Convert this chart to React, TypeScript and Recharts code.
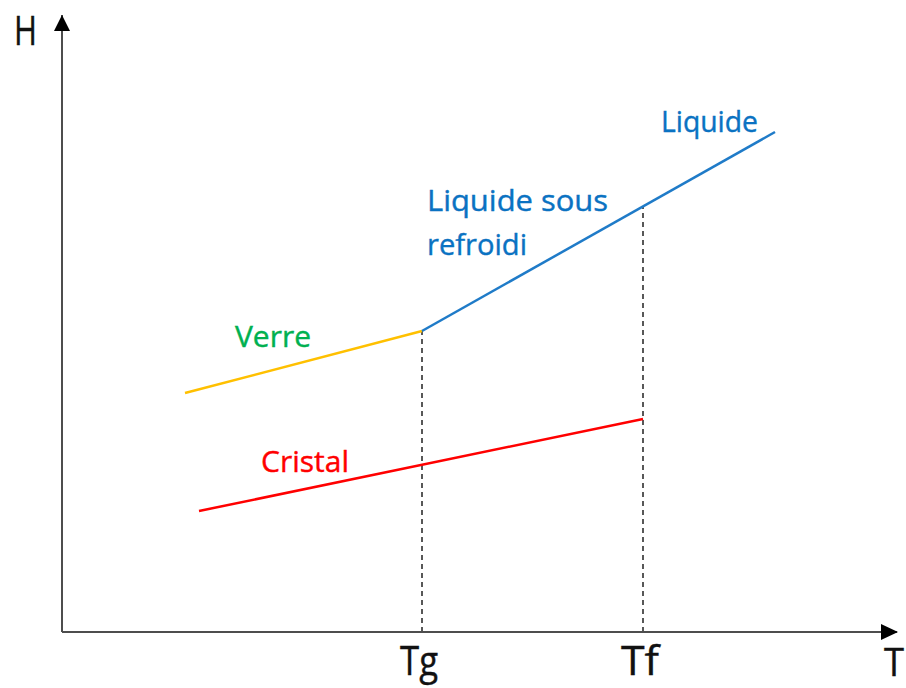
import React from 'react';
import {
  LineChart,
  Line,
  XAxis,
  YAxis,
  ReferenceLine,
  ReferenceDot,
} from 'recharts';

// Temperature (T) and enthalpy (H) in arbitrary units
const verre = [
  { t: 123, h: 239 },
  { t: 360, h: 301 },
];
const liquide = [
  { t: 360, h: 301 },
  { t: 713, h: 500 },
];
const cristal = [
  { t: 137, h: 121 },
  { t: 581, h: 213 },
];
const tempTicks = [360, 581];
const tickLabels = ['Tg', 'Tf'];
const tgH = 301;
const tfH = 425;

const seriesLabels = [
  { text: 'Verre', t: 173, h: 285, color: '#00B050', len: 76 },
  { text: 'Cristal', t: 199, h: 160, color: '#FF0000', len: 88 },
  { text: 'Liquide sous', t: 365, h: 421, color: '#0A72C2', len: 181 },
  { text: 'refroidi', t: 365, h: 377, color: '#0A72C2', len: 100 },
  { text: 'Liquide', t: 599, h: 500, color: '#0A72C2', len: 97 },
];

const T_MAX = 835;
const H_MAX = 617;
const FONT = '"Open Sans", Calibri, sans-serif';
const AXIS_COLOR = '#4d4d4d';

const TickLabel = (props: any) => {
  const { x, y, payload } = props;
  const idx = tempTicks.indexOf(payload.value);
  return (
    <text
      x={x - 3}
      y={y + 35}
      textAnchor="middle"
      fontFamily={FONT}
      fontSize={40}
      fill="#111"
      stroke="#111"
      strokeWidth={0.4}
      textLength={38}
      lengthAdjust="spacingAndGlyphs"
    >
      {tickLabels[idx]}
    </text>
  );
};

const textShape = (label: string, color: string, size: number, len: number) => (p: any) => (
  <text
    x={p.cx}
    y={p.cy}
    textAnchor="start"
    fontFamily={FONT}
    fontSize={size}
    fill={color}
    stroke={color}
    strokeWidth={0.4}
    textLength={len}
    lengthAdjust="spacingAndGlyphs"
  >
    {label}
  </text>
);

const arrowUp = (p: any) => (
  <polygon
    points={`${p.cx},${p.cy} ${p.cx - 8},${p.cy + 16} ${p.cx + 8},${p.cy + 16}`}
    fill="#000"
  />
);
const arrowRight = (p: any) => (
  <polygon
    points={`${p.cx + 1},${p.cy} ${p.cx - 16},${p.cy - 8} ${p.cx - 16},${p.cy + 8}`}
    fill="#000"
  />
);

export default function App() {
  return (
    <div style={{ position: 'absolute', left: 0, top: 0, width: 906, height: 688, background: '#fff' }}>
      <LineChart
        width={906}
        height={688}
        margin={{ top: 15, right: 9, left: 0, bottom: 0 }}
      >
        <XAxis
          type="number"
          dataKey="t"
          domain={[0, T_MAX]}
          ticks={tempTicks}
          tick={<TickLabel />}
          tickLine={false}
          axisLine={{ stroke: AXIS_COLOR, strokeWidth: 2 }}
          height={56}
          allowDataOverflow
        />
        <YAxis
          type="number"
          dataKey="h"
          domain={[0, H_MAX]}
          tick={false}
          tickLine={false}
          axisLine={{ stroke: AXIS_COLOR, strokeWidth: 2 }}
          width={62}
          allowDataOverflow
        />
        <ReferenceLine
          segment={[{ x: tempTicks[0], y: 0 }, { x: tempTicks[0], y: tgH }]}
          stroke="#222"
          strokeWidth={1.5}
          strokeDasharray="5 4"
          ifOverflow="visible"
        />
        <ReferenceLine
          segment={[{ x: tempTicks[1], y: 0 }, { x: tempTicks[1], y: tfH }]}
          stroke="#222"
          strokeWidth={1.5}
          strokeDasharray="5 4"
          ifOverflow="visible"
        />
        <Line
          data={verre}
          dataKey="h"
          type="linear"
          stroke="#FFC000"
          strokeWidth={2.5}
          dot={false}
          isAnimationActive={false}
        />
        <Line
          data={liquide}
          dataKey="h"
          type="linear"
          stroke="#1F7BC8"
          strokeWidth={2.5}
          dot={false}
          isAnimationActive={false}
        />
        <Line
          data={cristal}
          dataKey="h"
          type="linear"
          stroke="#FF0000"
          strokeWidth={2.5}
          dot={false}
          isAnimationActive={false}
        />
        {seriesLabels.map((l) => (
          <ReferenceDot
            key={l.text}
            x={l.t}
            y={l.h}
            r={1}
            ifOverflow="visible"
            shape={textShape(l.text, l.color, 30, l.len)}
          />
        ))}
        <ReferenceDot x={-48} y={587} r={1} ifOverflow="visible" shape={textShape('H', '#111', 40, 23)} />
        <ReferenceDot x={822} y={-44} r={1} ifOverflow="visible" shape={textShape('T', '#111', 38, 20)} />
        <ReferenceDot x={0} y={H_MAX} r={1} ifOverflow="visible" shape={arrowUp} />
        <ReferenceDot x={T_MAX} y={0} r={1} ifOverflow="visible" shape={arrowRight} />
      </LineChart>
    </div>
  );
}
